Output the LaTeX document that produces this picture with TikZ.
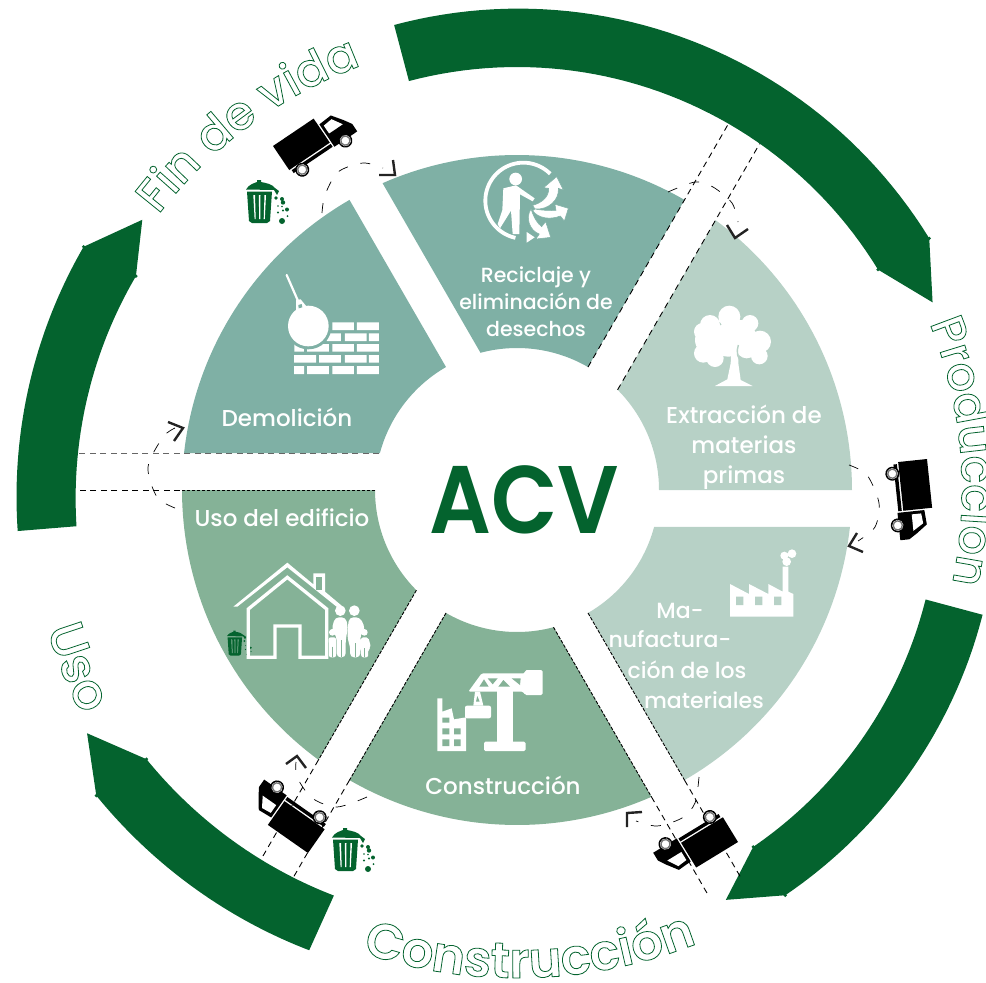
\documentclass[tikz,border=0pt]{standalone}
\usepackage{fontspec}
\usetikzlibrary{decorations.text}
\setmainfont{Poppins}
\newfontfamily\labf{Poppins Medium}
\newfontfamily\acvf{Poppins SemiBold}
\definecolor{dk}{RGB}{4,99,46}
\definecolor{secA}{RGB}{183,209,198}
\definecolor{secB}{RGB}{133,178,151}
\definecolor{secC}{RGB}{127,176,165}
\definecolor{chev}{RGB}{35,35,35}
\newcommand\outon{\special{pdf:code 1 Tr 0.8 w 0.016 0.39 0.18 RG}}
\newcommand\sectorfill[2]{%
  \fill[#2] plot[domain=60*#1-60+6.34:60*#1,samples=50] (\x:335)
    -- plot[domain=60*#1:60*#1-60+15.1,samples=30] (\x:142) -- cycle;}
% a0 a1 ri0 ri1 ro0 ro1 ta tr
\newcommand\arrowband[8]{%
  \fill[dk] plot[domain=#1:#2,samples=50] (\x:{#3+(#4-#3)*(\x-(#1))/((#2)-(#1))})
    -- (#7:#8)
    -- plot[domain=#2:#1,samples=50] (\x:{#5+(#6-#5)*(\x-(#1))/((#2)-(#1))}) -- cycle;
  \fill[dk] (#2:#4) circle (1.8) (#2:#6) circle (1.8);}
\tikzset{
  lab/.style={text=white,font=\labf\fontsize{23}{28}\selectfont,inner sep=0pt,anchor=base},
  labsm/.style={lab,font=\labf\fontsize{20.5}{26}\selectfont},
  labmd/.style={lab,font=\labf\fontsize{22}{26}\selectfont},
  dashline/.style={line width=.9pt,black,dash pattern=on 6pt off 4.5pt},
  densedash/.style={line width=.9pt,black,dash pattern=on 3.5pt off 1.5pt},
  dashcurve/.style={line width=.7pt,black,dash pattern=on 10pt off 13pt},
  chevron/.style={line width=2.4pt,chev},
}
\newcommand\truck[3]{%
 \begin{scope}[shift={(#1,#2)},rotate=-#3]
  \fill[black] (0,0) rectangle (49,29);
  \fill[black] (2,30.5) rectangle (49,34);
  \fill[black] (50.5,8) -- (65,7) -- (73,18) -- (78,26) -- (78,35) -- (50.5,35) -- cycle;
  \fill[white] (53.5,11.5) -- (63.5,10.5) -- (70,21) -- (53.5,21) -- cycle;
  \foreach \wx in {11,63}{
   \fill[black] (\wx,36) circle (7);
   \fill[white] (\wx,36) circle (5.6);
   \draw[line width=1.3pt,black!55] (\wx,36) circle (4.6);
  }
 \end{scope}}
\newcommand\canicon[4]{%
 \begin{scope}[shift={(#1,#2)},scale=#3]
  \fill[dk] (1,12.5) -- (26,12.5) -- (24,42) -- (21,44) -- (6,44) -- (3,42) -- cycle;
  \fill[dk] (0,10.5) .. controls (3,5) and (9,4) .. (11,3) -- (11,1) -- (15,1) -- (15,3) .. controls (20,4) and (26,5) .. (29,9) -- (33,12) -- (31,16) -- (28,11) -- cycle;
  \fill[#4] (7.3,16) -- (9,16) -- (9.7,40) -- (8.6,40) -- cycle;
  \fill[#4] (12.9,16) -- (14.5,16) -- (14.3,40) -- (13.1,40) -- cycle;
  \fill[#4] (18.5,16) -- (20,16) -- (18.8,40) -- (17.7,40) -- cycle;
  \fill[dk] (30,19) circle (1.8) (36,20) circle (2) (37,23.5) circle (2.2)
   (32,27) circle (.8) (36,27.5) circle (.9) (41,30.5) circle (2) (37,31.5) circle (1.1)
   (32,33.5) circle (1.1) (41.5,37) circle (1) (36,42) circle (3);
 \end{scope}}
\begin{document}
\begin{tikzpicture}[x=1pt,y=-1pt]
\useasboundingbox (0,0) rectangle (986,983);
\begin{scope}[shift={(517,490)}]
 \sectorfill{0}{secA}
 \sectorfill{1}{secA}
 \sectorfill{2}{secB}
 \sectorfill{3}{secB}
 \sectorfill{4}{secC}
 \sectorfill{5}{secC}
 \arrowband{-104.8}{-31.4}{423}{423}{481}{483}{-24.3}{456}
 \arrowband{15}{56.5}{423}{428}{482}{486}{63}{460}
 \arrowband{114.3}{144}{445}{458}{505}{520}{150.5}{494}
 \arrowband{175.3}{209.3}{442}{437}{501}{497}{215.8}{462}
 % dashed band edges
 \draw[dashline] (-60:142) -- (-60:423);
 \draw[dashline] ({-60+asin(37/142)}:142) -- ({-60+asin(37/423)}:423);
 \draw[densedash] (60:142) -- (60:335);
 \draw[dashline] (60:335) -- (60:449);
 \draw[densedash] ({60+asin(37/142)}:142) -- ({60+asin(37/335)}:335);
 \draw[dashline] ({60+asin(37/335)}:335) -- ({60+asin(37/447)}:447);
 \draw[densedash] (120:142) -- (120:335);
 \draw[dashline] (120:335) -- (120:447);
 \draw[densedash] ({120+asin(37/142)}:142) -- ({120+asin(37/335)}:335);
 \draw[dashline] ({120+asin(37/335)}:335) -- ({120+asin(37/447)}:447);
\end{scope}
\draw[densedash] (375,490) -- (180,490);
\draw[dashline] (180,490) -- (76,490);
\draw[dashline,black!60] (379,453) -- (78,453);
% curved dashed paths and chevrons
\draw[dashcurve] plot[smooth] coordinates {(322,213) (325,195) (338,172) (363,163) (383,168)};
\draw[chevron] (393,160) -- (395,175) -- (379,175);
\draw[dashcurve] plot[smooth] coordinates {(668,192) (695,182) (713,187) (732,203) (738,222)};
\draw[chevron] (727,225) -- (735,238) -- (748,229);
\draw[dashcurve] plot[smooth] coordinates {(849,465) (867,475) (879,503) (875,527) (858,541)};
\draw[chevron] (857,533) -- (849,546) -- (863,552);
\draw[dashcurve] plot[smooth] coordinates {(699,777) (695,803) (682,818) (657,826) (636,821)};
\draw[chevron] (642,812) -- (627,813) -- (627,827);
\draw[dashcurve] plot[smooth] coordinates {(367,797) (337,807) (312,798) (297,777) (296,762)};
\draw[chevron] (286,764) -- (297,756) -- (306,768);
\draw[dashcurve] plot[smooth] coordinates {(175,508) (157,497) (148,467) (163,437) (175,428)};
\draw[chevron] (168,422) -- (183,428) -- (174,441);
% centre text
\node[text=dk,font=\acvf\fontsize{96}{96}\selectfont,inner sep=0pt,anchor=base,xscale=.9] (acv) at (524,533) {ACV};
% labels
\node[labsm] (r1) at (536,282) {Reciclaje y};
\node[labsm] (r2) at (536,309) {eliminación de};
\node[labsm] (r3) at (536,336) {desechos};
\node[lab] (e1) at (744,423) {Extracción de};
\node[lab] (e2) at (744,453) {materias};
\node[lab] (e3) at (744,483) {primas};
\node[labmd] (m1) at (680,618) {Ma-};
\node[labmd] (m2) at (670,647) {nufactura-};
\node[labmd] (m3) at (687,678) {ción de los};
\node[labmd] (m4) at (704,708) {materiales};
\node[lab] (c1) at (503,794) {Construcción};
\node[lab] (u1) at (282,526) {Uso del edificio};
\node[lab] (d1) at (287,426) {Demolición};
% trucks and cans
\truck{273}{146}{-34}
\truck{927}{459}{84}
\truck{738}{842}{148.6}
\truck{308}{853}{-145}
\canicon{246}{179}{1}{white}
\canicon{332}{827}{1}{white}
\canicon{227}{630}{.58}{secB}
% recycling icon
\begin{scope}[shift={(450,140)},scale=1/3]
 \draw[white,line width=3.8pt] plot[domain=-45:-258,samples=60] ({220+114*cos(\x)},{182+114*sin(\x)});
 \fill[white] (230,276) -- (254,292) -- (230,308) -- cycle;
 \fill[white] (197,117) circle (19);
 \fill[white] (160,145) -- (198,136) -- (254,175) -- (248,184) -- (210,163) -- (208,282) -- (188,282) -- (183,212) -- (150,265) -- (143,252) -- (157,210) -- cycle;
 \fill[white,draw=secC,line width=.5pt] (248,196) .. controls (272,190) and (298,172) .. (296,145) -- (281,143) -- (320,110) -- (340,150) -- (325,145) .. controls (328,180) and (295,210) .. (255,207) -- cycle;
 \fill[white,draw=secC,line width=.5pt] (255,207) .. controls (280,212) and (300,212) .. (318,211) -- (315,193) -- (355,205) -- (343,243) -- (331,228) .. controls (300,240) and (265,235) .. (248,212) -- cycle;
 \fill[white,draw=secC,line width=.5pt] (243,207) .. controls (252,235) and (262,250) .. (275,260) -- (287,245) -- (302,292) -- (258,297) -- (268,282) .. controls (240,272) and (225,235) .. (243,207) -- cycle;
\end{scope}
% tree icon
\begin{scope}[shift={(600,280)},scale=1/3]
 \fill[white] (388,110) circle (33) (330,135) circle (30) (308,155) circle (26)
   (450,130) circle (25) (480,185) circle (33) (310,220) circle (28) (345,235) circle (26)
   (385,180) circle (50) (330,180) circle (45) (440,205) circle (30) (478,228) circle (25) (425,160) circle (40);
 \fill[white] (395,190) -- (415,190) -- (415,250) -- (422,300) -- (458,318) -- (345,318) -- (382,298) -- (392,250) -- cycle;
 \draw[secA,line width=1.4pt] (415,195) .. controls (408,215) and (412,240) .. (430,248);
\end{scope}
% factory
\begin{scope}[shift={(600,440)},scale=1/3]
 \fill[white] (390,530) -- (580,530) -- (580,462) -- (565,455) -- (565,380) -- (548,380) -- (548,455) -- (505,432) -- (505,462) -- (447,432) -- (447,462) -- (390,432) -- cycle;
 \fill[secA] (408,470) rectangle (430,495) (465,470) rectangle (487,495) (522,470) rectangle (544,495);
 \fill[white] (553,347) circle (12) (576,341) circle (13) (560,365) circle (13);
\end{scope}
% crane
\begin{scope}[shift={(340,640)},scale=1/3]
 \fill[white,rounded corners=1.5pt] (432,305) rectangle (557,333);
 \fill[white] (470,150) rectangle (520,310);
 \fill[white,rounded corners=1.5pt] (385,155) -- (425,100) -- (555,100) -- (555,90) -- (608,90) -- (608,165) -- (555,165) -- (550,155) -- cycle;
 \fill[secB] (418,140) -- (432,118) -- (446,140) -- cycle (443,115) -- (473,115) -- (458,133) -- cycle (475,140) -- (490,120) -- (510,140) -- cycle (515,115) -- (542,115) -- (540,135) -- cycle;
 \fill[white] (405,155) -- (420,155) -- (430,197) -- (400,197) -- cycle;
 \fill[secB] (412,168) -- (419,185) -- (408,185) -- cycle;
 \fill[white,rounded corners=2pt] (375,197) rectangle (453,235);
 \fill[white] (292,175) -- (307,175) -- (307,215) -- (335,205) -- (342,238) -- (378,232) -- (378,333) -- (292,333) -- cycle;
 \fill[secB] (307,233) rectangle (328,248) (307,265) rectangle (328,283) (342,265) rectangle (362,283) (307,298) rectangle (328,318) (342,298) rectangle (362,318);
\end{scope}
% wrecking ball
\begin{scope}[shift={(130,260)},scale=1/3]
 \fill[white] (607,187) rectangle (672,210) (681,187) rectangle (747,210)
  (590,220) rectangle (633,243) (645,220) rectangle (710,243) (717,220) rectangle (747,243)
  (493,252) rectangle (597,275) (607,252) rectangle (672,275) (681,252) rectangle (747,275)
  (492,285) rectangle (558,308) (567,285) rectangle (633,308) (645,285) rectangle (710,308) (717,285) rectangle (747,308)
  (492,318) rectangle (522,342) (531,318) rectangle (597,342) (607,318) rectangle (672,342) (681,318) rectangle (747,342);
 \fill[secC] (522,252) rectangle (531,275);
 \fill[secC] (535,198) circle (70);
 \fill[white] (535,198) circle (61);
 \draw[white,line width=2.2pt,line cap=round] (470,45) -- (505,125);
 \fill[white] (498,120) -- (512,118) -- (530,140) -- (498,150) -- cycle;
 \fill[secC] (505,135) -- (515,132) -- (517,142) -- (506,145) -- cycle;
\end{scope}
% house and family
\begin{scope}[shift={(180,540)},scale=1/3]
 \draw[white,line width=3.3pt,line join=miter] (205,352) -- (205,207) -- (322,112) -- (440,207) -- (440,352) -- (360,352) -- (360,258) -- (285,258) -- (285,352) -- cycle;
 \fill[white] (160,200) -- (322,68) -- (400,133) -- (400,100) -- (435,100) -- (435,155) -- (485,197) -- (476,205) -- (322,82) -- (172,200) -- cycle;
 \fill[secB] (408,110) rectangle (425,150);
 \fill[white] (481,212) circle (16) (523,212) circle (16) (457,277) circle (10) (553,277) circle (10);
 \fill[white,rounded corners=4pt] (465,232) -- (497,232) -- (504,262) -- (497,300) -- (497,352) -- (470,352) -- (470,290) -- (455,268) -- cycle;
 \fill[white,rounded corners=4pt] (508,232) -- (540,232) -- (556,265) -- (541,285) -- (541,352) -- (510,352) -- (511,320) -- (503,300) -- (503,262) -- cycle;
 \fill[white,rounded corners=2pt] (446,292) -- (468,292) -- (468,352) -- (447,352) -- cycle;
 \fill[white,rounded corners=2pt] (543,292) -- (565,292) -- (573,322) -- (565,328) -- (564,352) -- (544,352) -- (543,328) -- (535,320) -- cycle;
 \draw[secB,line width=.7pt] (457,320) -- (457,352) (483,300) -- (483,352) (526,310) -- (526,352) (554,325) -- (554,352);
\end{scope}
% outlined circular titles
\path[decorate,decoration={text along path,text={|\labf\fontsize{47}{47}\selectfont\outon|Fin de vida}}]
  plot[shift={(517,490)},domain=217.5:265,samples=80] (\x:452);
\path[decorate,decoration={text along path,text={|\labf\fontsize{46.5}{46.5}\selectfont\outon|Producción}}]
  plot[shift={(517,490)},domain=-22:30,samples=80] (\x:445);
\path[decorate,decoration={text along path,text={|\acvf\fontsize{50}{50}\selectfont\outon|Construcción}}]
  plot[shift={(517,490)},domain=108.5:50,samples=80] (\x:488);
\path[decorate,decoration={text along path,text={|\labf\fontsize{50}{50}\selectfont\outon|Uso}}]
  plot[shift={(517,490)},domain=163.5:130,samples=80] (\x:490);
\end{tikzpicture}
\end{document}
